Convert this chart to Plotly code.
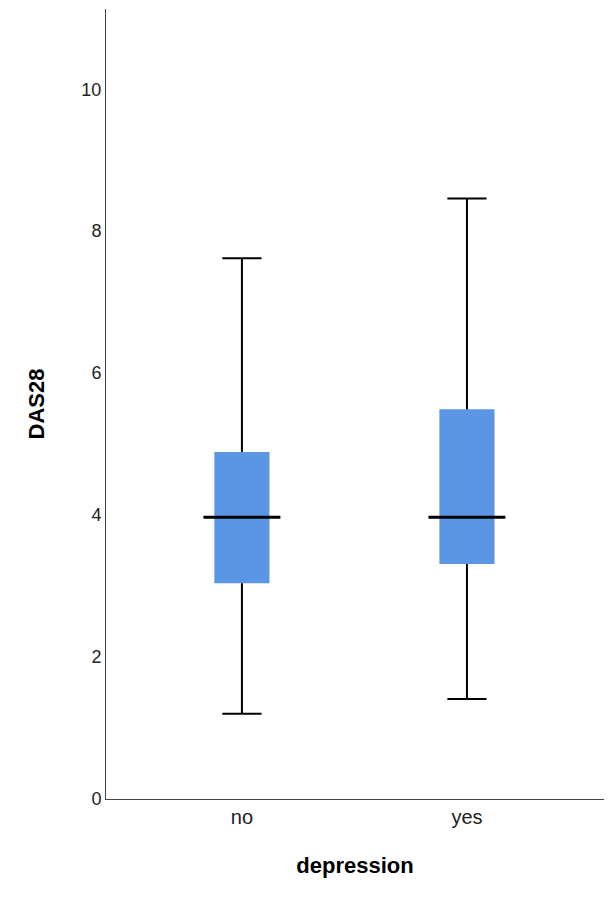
import plotly.graph_objects as go

categories = ["no", "yes"]
lower = [1.20, 1.41]
q1 = [3.04, 3.31]
median = [3.97, 3.97]
q3 = [4.89, 5.49]
upper = [7.62, 8.46]
box_color = "#5a96e3"

wx, wy = [], []
for c, l, a, b, u in zip(categories, lower, q1, q3, upper):
    wx += [c, c, None, c, c, None]
    wy += [l, a, None, b, u, None]

fig = go.Figure()
fig.add_trace(go.Bar(x=categories, y=[b - a for a, b in zip(q1, q3)], base=q1,
                     width=0.245, marker=dict(color=box_color, line=dict(width=0)),
                     hoverinfo="skip"))
fig.add_trace(go.Scatter(x=wx, y=wy, mode="lines", line=dict(color="black", width=2)))
fig.add_trace(go.Scatter(x=categories + categories, y=lower + upper, mode="markers",
                         marker=dict(symbol="line-ew", size=28, line=dict(width=2, color="black"))))
fig.add_trace(go.Scatter(x=categories, y=median, mode="markers",
                         marker=dict(symbol="line-ew", size=55, line=dict(width=3, color="black"))))

fig.update_layout(
    width=614, height=913, showlegend=False, plot_bgcolor="white", paper_bgcolor="white",
    margin=dict(l=98, r=18, t=1, b=122, autoexpand=False),
    font=dict(family="Liberation Sans, Arial", color="#222"),
    xaxis=dict(type="category", range=[-0.604, 1.609], showline=True, linecolor="#444",
               linewidth=1, ticks="", tickfont=dict(size=20), automargin=False,
               title=dict(text="<b>depression</b>", font=dict(size=22, color="black"), standoff=30)),
    yaxis=dict(range=[0, 11.13], showline=True, linecolor="#444", linewidth=1, showgrid=False,
               zeroline=False, tickvals=[0, 2, 4, 6, 8, 10], ticks="", tickfont=dict(size=18),
               automargin=False,
               title=dict(text="<b>DAS28</b>", font=dict(size=22, color="black"), standoff=30)),
)
fig.write_html("out.html")
